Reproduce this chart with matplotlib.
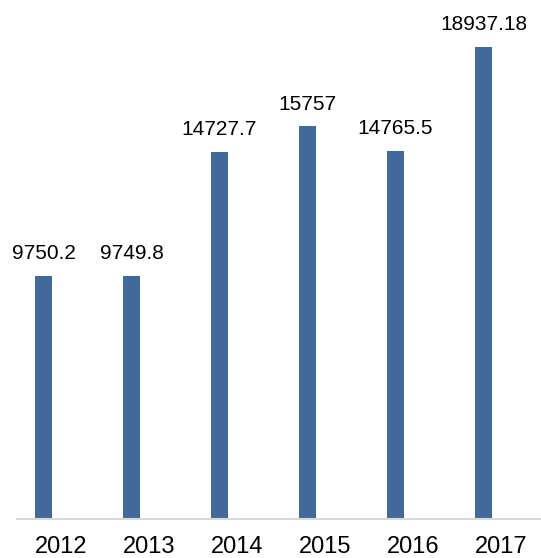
import matplotlib.pyplot as plt

years = ['2012', '2013', '2014', '2015', '2016', '2017']
values = [9750.2, 9749.8, 14727.7, 15757, 14765.5, 18937.18]
labels = ['9750.2', '9749.8', '14727.7', '15757', '14765.5', '18937.18']

plt.rcParams['font.family'] = ['Liberation Sans', 'DejaVu Sans']

fig = plt.figure(figsize=(5.41, 5.58), dpi=100)
ax = fig.add_axes([17 / 541, 39 / 558, 1 - 17 / 541, 498.6 / 558])

w = 0.193
x = list(range(len(years)))
ax.bar(x, values, width=w, color='#41699c', zorder=2)

for xi, v, lab in zip(x, values, labels):
    ax.annotate(lab, (xi, v), xytext=(0, 9), textcoords='offset points',
                ha='center', va='bottom', fontsize=15, color='black')

ax.set_xlim(-0.301, 5.653)
ax.set_ylim(0, 20000)
# year labels sit left-aligned with the bar's left edge
ax.set_xticks([xi - w / 2 for xi in x])
ax.set_xticklabels(years, fontsize=17, ha='left')
ax.tick_params(axis='x', length=0, pad=12)
ax.set_yticks([])
for side in ['top', 'right', 'left']:
    ax.spines[side].set_visible(False)
ax.spines['bottom'].set_color('#d9d9d9')
ax.spines['bottom'].set_linewidth(1.5)

fig.savefig('out.png', dpi=100)
